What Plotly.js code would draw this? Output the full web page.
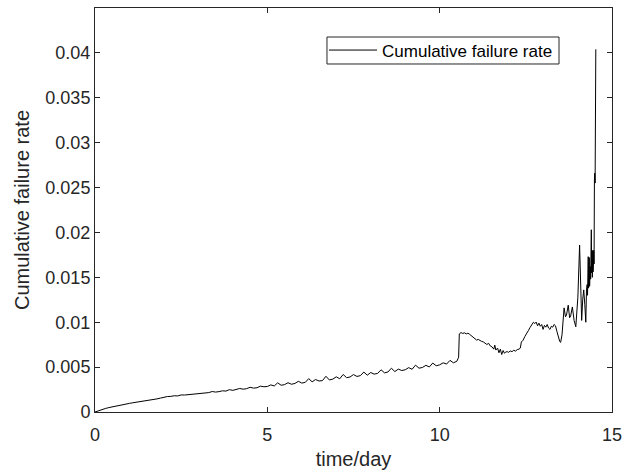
<!DOCTYPE html>
<html>
<head>
<meta charset="utf-8">
<script src="https://cdn.plot.ly/plotly-3.0.1.min.js"></script>
<style>html,body{margin:0;padding:0;background:#fff;}#chart{width:623px;height:472px;}</style>
</head>
<body>
<div id="chart"></div>
<script>
// time in days
const timeDay = [
  0, 0.1, 0.2, 0.3, 0.4, 0.5, 0.6, 0.7, 0.8, 0.9,
  1.0, 1.1, 1.2, 1.3, 1.4, 1.5, 1.6, 1.7, 1.8, 1.9,
  2.0, 2.1, 2.2, 2.3, 2.4, 2.5, 2.6, 2.7, 2.8, 2.9,
  3.0, 3.1, 3.2, 3.3, 3.4, 3.5, 3.6, 3.7, 3.8, 3.9,
  4.0, 4.1, 4.2, 4.3, 4.4, 4.5, 4.6, 4.7, 4.8, 4.9,
  5.0, 5.1, 5.2, 5.3, 5.4, 5.5, 5.6, 5.7, 5.8, 5.9,
  6.0, 6.1, 6.2, 6.3, 6.4, 6.5, 6.6, 6.7, 6.8, 6.9,
  7.0, 7.1, 7.2, 7.3, 7.4, 7.5, 7.6, 7.7, 7.8, 7.9,
  8.0, 8.1, 8.2, 8.3, 8.4, 8.5, 8.6, 8.7, 8.8, 8.9,
  9.0, 9.1, 9.2, 9.3, 9.4, 9.5, 9.6, 9.7, 9.8, 9.9,
  10.0, 10.1, 10.2, 10.3, 10.4, 10.5, 10.55, 10.57, 10.62, 10.67,
  10.72, 10.77, 10.82, 10.87, 10.92, 10.97, 11.02, 11.07, 11.12, 11.17,
  11.22, 11.27, 11.32, 11.37, 11.42, 11.47, 11.52, 11.57, 11.6, 11.63,
  11.68, 11.72, 11.76, 11.8, 11.84, 11.88, 11.92, 11.96, 12.0, 12.05,
  12.1, 12.15, 12.2, 12.25, 12.3, 12.34, 12.37, 12.42, 12.47, 12.52,
  12.57, 12.62, 12.67, 12.72, 12.76, 12.8, 12.84, 12.88, 12.92, 12.96,
  13.0, 13.04, 13.08, 13.12, 13.16, 13.2, 13.24, 13.28, 13.32, 13.36,
  13.4, 13.44, 13.48, 13.51, 13.55, 13.61, 13.65, 13.68, 13.73, 13.77,
  13.8, 13.85, 13.88, 13.9, 13.95, 14.01, 14.06, 14.09, 14.12, 14.15,
  14.18, 14.21, 14.24, 14.26, 14.28, 14.29, 14.31, 14.32, 14.34, 14.35,
  14.37, 14.38, 14.40, 14.41, 14.42, 14.43, 14.44, 14.45, 14.46, 14.47,
  14.48, 14.49, 14.50, 14.51, 14.53
];
// cumulative failure rate
const failureRate = [
  0, 0.00015, 0.00028, 0.00039, 0.00049, 0.00058, 0.00066, 0.00074, 0.00081, 0.00089,
  0.00096, 0.00103, 0.00108, 0.00114, 0.00119, 0.00126, 0.00131, 0.00139, 0.00146, 0.00155,
  0.00165, 0.00172, 0.00174, 0.00181, 0.00179, 0.00190, 0.00189, 0.00193, 0.00201, 0.00199,
  0.00206, 0.00214, 0.00211, 0.00216, 0.00228, 0.00222, 0.00227, 0.00236, 0.00233, 0.00249,
  0.00241, 0.00248, 0.00262, 0.00254, 0.00260, 0.00275, 0.00266, 0.00270, 0.00288, 0.00281,
  0.00284, 0.00302, 0.00290, 0.00325, 0.00298, 0.00305, 0.00326, 0.00309, 0.00318, 0.00342,
  0.00322, 0.00330, 0.00372, 0.00336, 0.00362, 0.00345, 0.00350, 0.00398, 0.00357, 0.00366,
  0.00392, 0.00370, 0.00418, 0.00382, 0.00390, 0.00417, 0.00396, 0.00405, 0.00445, 0.00410,
  0.00440, 0.00422, 0.00430, 0.00470, 0.00436, 0.00446, 0.00488, 0.00450, 0.00478, 0.00462,
  0.00470, 0.00494, 0.00476, 0.00522, 0.00488, 0.00496, 0.00520, 0.00502, 0.00545, 0.00515,
  0.00525, 0.00548, 0.00534, 0.00575, 0.00548, 0.00566, 0.00610, 0.00870, 0.00885, 0.00875,
  0.00882, 0.00870, 0.00878, 0.00865, 0.00850, 0.00838, 0.00815, 0.00802, 0.00808, 0.00792,
  0.00786, 0.00780, 0.00762, 0.00752, 0.00765, 0.00735, 0.00725, 0.00700, 0.00745, 0.00690,
  0.00712, 0.00660, 0.00700, 0.00640, 0.00685, 0.00655, 0.00668, 0.00672, 0.00665, 0.00680,
  0.00672, 0.00688, 0.00678, 0.00695, 0.00700, 0.00712, 0.00780, 0.00800, 0.00840, 0.00880,
  0.00905, 0.00940, 0.00965, 0.01000, 0.00985, 0.01002, 0.00960, 0.00990, 0.00955, 0.00975,
  0.00920, 0.00965, 0.00945, 0.00975, 0.00935, 0.00920, 0.00955, 0.00945, 0.00975, 0.00960,
  0.00900, 0.00830, 0.00790, 0.00775, 0.00860, 0.01160, 0.01060, 0.01080, 0.01190, 0.01050,
  0.01070, 0.01170, 0.01060, 0.01020, 0.00950, 0.01280, 0.01860, 0.01210, 0.01020, 0.01250,
  0.01360, 0.01200, 0.01000, 0.01360, 0.01420, 0.01300, 0.01730, 0.01380, 0.01720, 0.01400,
  0.01620, 0.01480, 0.02030, 0.01550, 0.01700, 0.01500, 0.01800, 0.01560, 0.01620, 0.01800,
  0.01650, 0.02580, 0.02660, 0.02550, 0.04040
];
const xTickVals = [0, 5, 10, 15];
const xTickText = ["0", "5", "10", "15"];
const yTickVals = [0, 0.005, 0.01, 0.015, 0.02, 0.025, 0.03, 0.035, 0.04];
const yTickText = ["0", "0.005", "0.01", "0.015", "0.02", "0.025", "0.03", "0.035", "0.04"];

const axisColor = "#262626";
const fontFamily = "'Liberation Sans', Arial, Helvetica, sans-serif";

const trace = {
  x: timeDay,
  y: failureRate,
  type: "scatter",
  mode: "lines",
  name: "Cumulative failure rate",
  line: {color: "#000000", width: 1}
};

const layout = {
  width: 623,
  height: 472,
  margin: {l: 95, r: 11, t: 8, b: 60, pad: 0},
  paper_bgcolor: "#ffffff",
  plot_bgcolor: "#ffffff",
  font: {family: fontFamily, size: 18, color: axisColor},
  showlegend: true,
  legend: {
    x: 0.443, y: 0.8948, xanchor: "left", yanchor: "middle",
    bgcolor: "rgba(0,0,0,0)", borderwidth: 0,
    itemwidth: 48,
    font: {family: fontFamily, size: 17, color: "#000000"}
  },
  shapes: [{
    type: "rect", xref: "paper", yref: "paper",
    x0: 0.4487, x1: 0.8975, y0: 0.8614, y1: 0.9282,
    line: {color: axisColor, width: 1}, fillcolor: "#ffffff", layer: "below"
  }],
  xaxis: {
    range: [0, 15],
    tickvals: xTickVals, ticktext: xTickText,
    ticks: "inside", ticklen: 5, tickwidth: 1, tickcolor: axisColor,
    showline: true, linecolor: axisColor, linewidth: 1, mirror: "ticks",
    showgrid: false, zeroline: false,
    tickfont: {size: 18, color: axisColor},
    ticklabelstandoff: 6,
    title: {text: "time/day", font: {size: 20, color: axisColor}, standoff: 8},
    automargin: false
  },
  yaxis: {
    range: [0, 0.045],
    tickvals: yTickVals, ticktext: yTickText,
    ticks: "inside", ticklen: 5, tickwidth: 1, tickcolor: axisColor,
    showline: true, linecolor: axisColor, linewidth: 1, mirror: "ticks",
    showgrid: false, zeroline: false,
    tickfont: {size: 18, color: axisColor},
    title: {text: "Cumulative failure rate", font: {size: 20, color: axisColor}, standoff: 10},
    automargin: false
  }
};

Plotly.newPlot("chart", [trace], layout, {displayModeBar: false, staticPlot: true});
</script>
</body>
</html>
